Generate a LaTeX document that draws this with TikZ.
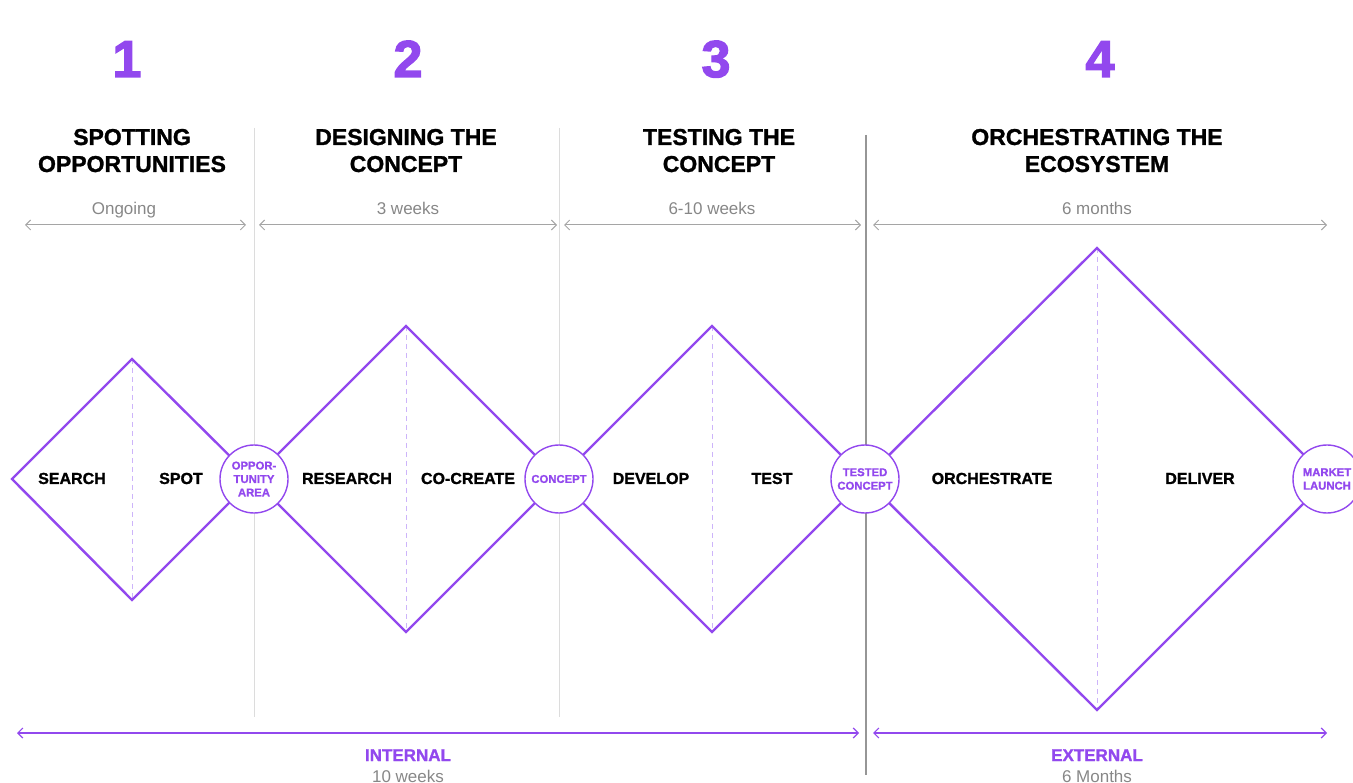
\documentclass[tikz,border=0pt]{standalone}
\usepackage{fontspec}
\setmainfont{Liberation Sans}
\newfontfamily\heavy[BoldFeatures={FakeBold=1.2}]{Liberation Sans}
\newfontfamily\heavier[BoldFeatures={FakeBold=2.5}]{Liberation Sans}
\usetikzlibrary{arrows.meta}
\definecolor{vio}{RGB}{146,72,238}
\definecolor{viol}{RGB}{205,180,250}
\definecolor{gtxt}{RGB}{135,135,135}
\definecolor{garr}{RGB}{165,165,165}
\definecolor{gsep}{RGB}{220,220,220}
\definecolor{gdark}{RGB}{150,150,150}
\tikzset{
  num/.style={text=vio,font=\fontsize{52}{52}\heavier\bfseries,anchor=base},
  head/.style={font=\fontsize{23}{27}\heavy\bfseries,align=center,anchor=base},
  dur/.style={text=gtxt,font=\fontsize{17}{20}\selectfont,anchor=base},
  lbl/.style={font=\fontsize{16}{18}\heavy\bfseries,anchor=base},
  gate/.style={circle,draw=vio,line width=1.4pt,fill=white,minimum size=68pt,inner sep=0pt,text=vio,font=\fontsize{11.3}{13.5}\heavy\bfseries,align=center},
  dia/.style={draw=vio,line width=2.4pt,line join=miter},
  mid/.style={draw=viol,dashed,line width=0.9pt,dash pattern=on 5pt off 4pt},
  sep/.style={draw=gsep,line width=1pt},
  span/.style={draw=garr,line width=1pt,{Straight Barb[length=5pt,width=10pt]}-{Straight Barb[length=5pt,width=10pt]}},
  vspan/.style={draw=vio,line width=1.2pt,{Straight Barb[length=5pt,width=10pt]}-{Straight Barb[length=5pt,width=10pt]}},
  sum/.style={text=vio,font=\fontsize{17}{20}\heavy\bfseries,anchor=base},
}
\begin{document}
\begin{tikzpicture}[x=1pt,y=-1pt]
\useasboundingbox (0,0) rectangle (1353,783);
% separators
\draw[sep] (254,128) -- (254,717);
\draw[sep] (559,128) -- (559,717);
\draw[draw=gdark,line width=2.4pt] (866,135) -- (866,775);
% numbers
\node[num] (n1) at (127,77) {1};
\node[num] (n2) at (408,77) {2};
\node[num] (n3) at (716,77) {3};
\node[num] (n4) at (1100,77) {4};
% headings
\node[head] (h1) at (132,172) {SPOTTING\\OPPORTUNITIES};
\node[head] (h2) at (406,172) {DESIGNING THE\\CONCEPT};
\node[head] (h3) at (719,172) {TESTING THE\\CONCEPT};
\node[head] (h4) at (1097,172) {ORCHESTRATING THE\\ECOSYSTEM};
% durations
\node[dur] (d1) at (124,215) {Ongoing};
\node[dur] (d2) at (408,215) {3 weeks};
\node[dur] (d3) at (712,215) {6-10 weeks};
\node[dur] (d4) at (1097,215) {6 months};
\coordinate (a1l) at (25,225); \coordinate (a1r) at (246,225);
\coordinate (a2l) at (259,225); \coordinate (a2r) at (557,225);
\coordinate (a3l) at (564,225); \coordinate (a3r) at (861,225);
\coordinate (a4l) at (873,225); \coordinate (a4r) at (1327,225);
\draw[span] (a1l) -- (a1r);
\draw[span] (a2l) -- (a2r);
\draw[span] (a3l) -- (a3r);
\draw[span] (a4l) -- (a4r);
% diamonds
\coordinate (s) at (12,479);
\coordinate (t1) at (132,359); \coordinate (b1) at (132,600); \coordinate (r1) at (253,479);
\coordinate (t2) at (406,326); \coordinate (b2) at (406,632); \coordinate (r2) at (559,479);
\coordinate (t3) at (712,326); \coordinate (b3) at (712,632); \coordinate (r3) at (865,479);
\coordinate (t4) at (1097,248); \coordinate (b4) at (1097,710); \coordinate (r4) at (1328,479);
\draw[mid] (t1) -- (b1);
\draw[mid] (t2) -- (b2);
\draw[mid] (t3) -- (b3);
\draw[mid] (t4) -- (b4);
\draw[dia] (r1) -- (t1) -- (s) -- (b1) -- cycle;
\draw[dia] (r2) -- (t2) -- (r1) -- (b2) -- cycle;
\draw[dia] (r3) -- (t3) -- (r2) -- (b3) -- cycle;
\draw[dia] (r4) -- (t4) -- (r3) -- (b4) -- cycle;
% gates
\node[gate] (g1) at (254,479) {OPPOR-\\TUNITY\\AREA};
\node[gate] (g2) at (559,479) {CONCEPT};
\node[gate] (g3) at (865,479) {TESTED\\CONCEPT};
\node[gate] (g4) at (1327,479) {MARKET\\LAUNCH};
% stage labels
\node[lbl] (l1) at (72,484) {SEARCH};
\node[lbl] (l2) at (181,484) {SPOT};
\node[lbl] (l3) at (347,484) {RESEARCH};
\node[lbl] (l4) at (468,484) {CO-CREATE};
\node[lbl] (l5) at (651,484) {DEVELOP};
\node[lbl] (l6) at (772,484) {TEST};
\node[lbl] (l7) at (992,484) {ORCHESTRATE};
\node[lbl] (l8) at (1200,484) {DELIVER};
% bottom
\coordinate (il) at (17,733); \coordinate (ir) at (859,733);
\coordinate (el) at (873,733); \coordinate (er) at (1327,733);
\draw[vspan] (il) -- (ir);
\draw[vspan] (el) -- (er);
\node[sum] (s1) at (408,761) {INTERNAL};
\node[dur] (s2) at (408,782) {10 weeks};
\node[sum] (s3) at (1097,761) {EXTERNAL};
\node[dur] (s4) at (1097,782) {6 Months};
\end{tikzpicture}
\end{document}
